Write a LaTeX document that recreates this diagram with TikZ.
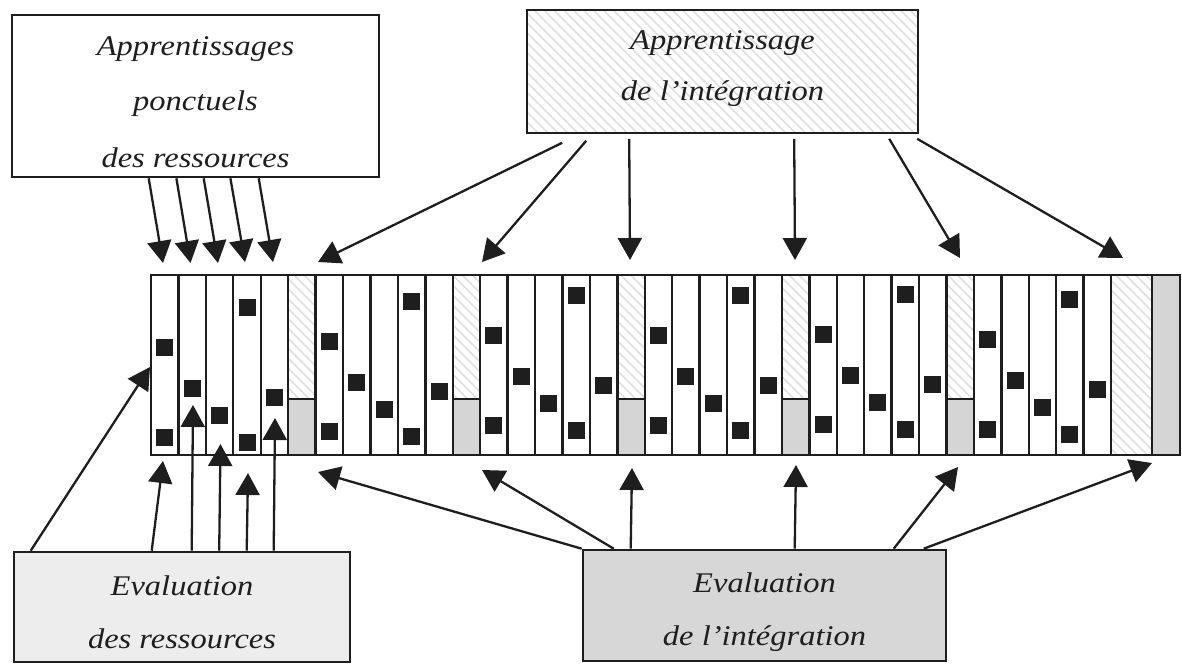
\documentclass[tikz,border=0pt]{standalone}
\usepackage{fontspec}
\setmainfont{Liberation Serif}
\newfontfamily\labfont{Liberation Serif}[FakeStretch=1.14]
\usetikzlibrary{arrows.meta,patterns.meta,calc}
\definecolor{ink}{HTML}{1E1E1E}
\definecolor{paleA}{HTML}{EDEDED}
\definecolor{paleB}{HTML}{D7D7D7}
\definecolor{colgrey}{HTML}{D5D5D5}
\begin{document}
\begin{tikzpicture}[x=1pt,y=-1pt,
  frame/.style={draw=ink,line width=2.6pt,inner sep=0pt},
  lab/.style={font=\labfont\itshape\fontsize{28.5}{28.5}\selectfont,inner sep=0pt,anchor=base,text=ink},
  link/.style={draw=ink,line width=2.3pt,-{Triangle[length=22pt,width=24pt]}},
  hatch/.style={pattern={Lines[angle=-45,distance=7pt,line width=1.6pt]},pattern color=gray!25},
  dot/.style={fill=ink}
]
\useasboundingbox (0,0) rectangle (1182,664);

% ---- the four boxes ----
\node[frame, minimum width=367pt, minimum height=162pt] (b1) at (195.5,96) {};
\node[frame, hatch, minimum width=391pt, minimum height=123pt] (b2) at (722.5,71.5) {};
\node[frame, fill=paleA, minimum width=336pt, minimum height=110pt] (b3) at (182,607) {};
\node[frame, fill=paleB, minimum width=363pt, minimum height=111pt] (b4) at (764.5,605.5) {};

\node[lab] (l1a) at (195.5,55) {Apprentissages};
\node[lab] (l1b) at (195.5,110) {ponctuels};
\node[lab] (l1c) at (195.5,167) {des ressources};
\node[lab] (l2a) at (722.5,49) {Apprentissage};
\node[lab] (l2b) at (722.5,100) {de l’intégration};
\node[lab] (l3a) at (182,595) {Evaluation};
\node[lab] (l3b) at (182,648) {des ressources};
\node[lab] (l4a) at (764.5,592) {Evaluation};
\node[lab] (l4b) at (764.5,645) {de l’intégration};

% ---- the strip of columns ----
\def\cw{27.43}
\foreach \i in {5,11,17,23,29} {
  \path[hatch] ({151+\i*\cw},275) rectangle ({151+(\i+1)*\cw},399);
  \fill[colgrey] ({151+\i*\cw},399) rectangle ({151+(\i+1)*\cw},455);
  \draw[ink,line width=2.2pt] ({151+\i*\cw},399) -- ({151+(\i+1)*\cw},399);
}
\path[hatch] (1111,275) rectangle (1152,455);
\fill[colgrey] (1152,275) rectangle (1180,455);

% squares in the white columns
\foreach \g/\d in {0/12,1/6,2/0,3/0,4/-1,5/4} {
  \foreach \k/\yy in {0/335,0/425,1/376,2/403,3/295,3/430,4/385} {
    \fill[dot] ({151+(6*\g+\k+0.5)*\cw-8.5},{\yy+\d-8.5}) rectangle ++(17,17);
  }
}

\draw[ink,line width=2.6pt] (151,275) rectangle (1180,455);
\foreach \i in {1,...,35} {
  \draw[ink,line width=2.4pt] ({151+\i*\cw},275) -- ({151+\i*\cw},455);
}
\draw[ink,line width=2.4pt] (1152,275) -- (1152,455);

% ---- arrow tips on the strip ----
\coordinate (p1) at (163,263);
\coordinate (p2) at (190.5,263);
\coordinate (p3) at (218,263);
\coordinate (p4) at (245,262);
\coordinate (p5) at (273,262);
\coordinate (q1) at (318,262);
\coordinate (q2) at (482,262);
\coordinate (q3) at (630,260);
\coordinate (q4) at (795,260);
\coordinate (q5) at (960,258);
\coordinate (q6) at (1123,258);
\coordinate (r0) at (150,367);
\coordinate (r1) at (163,461);
\coordinate (r2) at (193,405);
\coordinate (r3) at (220.5,444);
\coordinate (r4) at (248,473);
\coordinate (r5) at (275,418);
\coordinate (s1) at (318,472);
\coordinate (s2) at (482,470);
\coordinate (s3) at (632,468);
\coordinate (s4) at (796,465);
\coordinate (s5) at (958,467);
\coordinate (s6) at (1152,463);

% ---- connectors ----
\draw[link] ($(b1.south west)+(138,0)$) -- (p1);
\draw[link] ($(b1.south west)+(165.7,0)$) -- (p2);
\draw[link] ($(b1.south west)+(193,0)$) -- (p3);
\draw[link] ($(b1.south west)+(219.7,0)$) -- (p4);
\draw[link] ($(b1.south west)+(248,0)$) -- (p5);

\draw[link] ($(b2.south west)+(36,9)$) -- (q1);
\draw[link] ($(b2.south west)+(60,7)$) -- (q2);
\draw[link] ($(b2.south west)+(103,5)$) -- (q3);
\draw[link] ($(b2.south west)+(268,5)$) -- (q4);
\draw[link] ($(b2.south west)+(363,5)$) -- (q5);
\draw[link] ($(b2.south west)+(391,5)$) -- (q6);

\draw[link] ($(b3.north west)+(18,0)$) -- (r0);
\draw[link] ($(b3.north west)+(139,0)$) -- (r1);
\draw[link] ($(b3.north west)+(179,0)$) -- (r2);
\draw[link] ($(b3.north west)+(206.5,0)$) -- (r3);
\draw[link] ($(b3.north west)+(234,0)$) -- (r4);
\draw[link] ($(b3.north west)+(261,0)$) -- (r5);

\draw[link] ($(b4.north west)+(0,0)$) -- (s1);
\draw[link] ($(b4.north west)+(32,0)$) -- (s2);
\draw[link] ($(b4.north west)+(49,0)$) -- (s3);
\draw[link] ($(b4.north west)+(213,0)$) -- (s4);
\draw[link] ($(b4.north west)+(312,0)$) -- (s5);
\draw[link] ($(b4.north west)+(342,0)$) -- (s6);
\end{tikzpicture}
\end{document}
